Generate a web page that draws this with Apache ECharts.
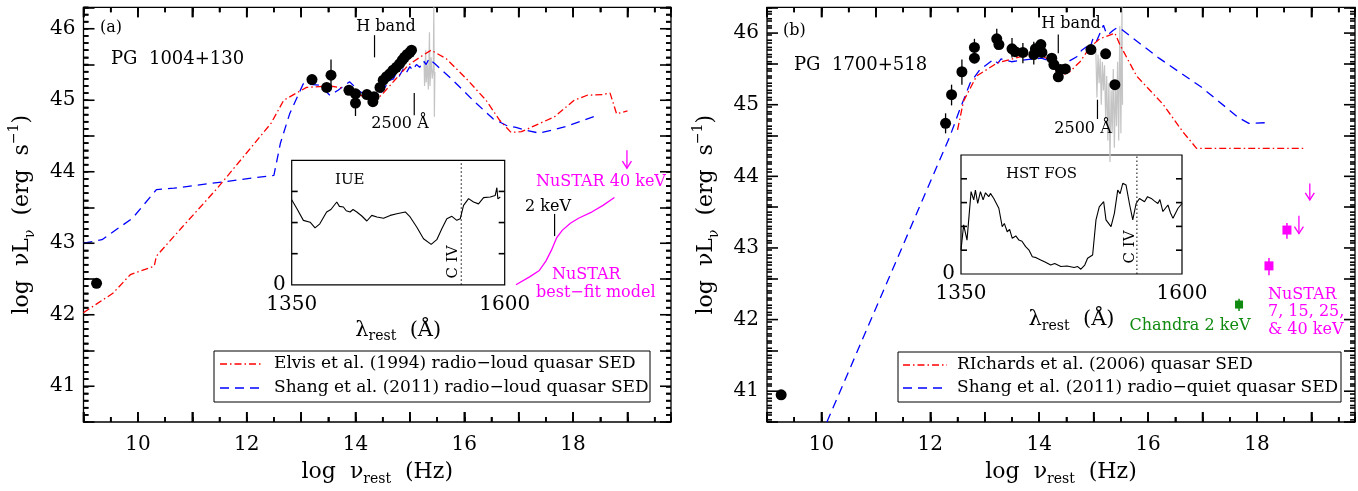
<!DOCTYPE html>
<html><head><meta charset="utf-8">
<script src="https://cdn.jsdelivr.net/npm/echarts@6/dist/echarts.min.js"></script>
<style>html,body{margin:0;padding:0;background:#fff}#c{width:1358px;height:491px}</style>
</head><body><div id="c"></div>
<script>
// ================= DATA =================
const xTickLabels = [10, 12, 14, 16, 18];
const yTickLabels = [41, 42, 43, 44, 45, 46];
const insetXLabels = [1350, 1600];
const insetYLabels = [0];

// ---- Panel (a): PG 1004+130 ----
const aElvis = [[9.0,42.03],[9.54,42.30],[9.86,42.56],[10.30,42.68],[10.34,42.82],[10.82,43.23],[11.46,43.77],[11.94,44.21],[12.45,44.68],[12.68,45.0],[13.10,45.18],[13.53,45.20],[13.83,45.16],[14.08,45.07],[14.38,45.0],[14.51,45.1],[14.72,45.28],[14.97,45.49],[15.18,45.60],[15.39,45.70],[15.67,45.58],[16.04,45.30],[16.40,45.0],[16.65,44.72],[16.86,44.55],[17.05,44.56],[17.66,44.77],[18.02,45.0],[18.26,45.07],[18.54,45.08],[18.68,45.10],[18.80,44.81],[19.0,44.85]];
const aShang = [[9.0,43.0],[9.34,43.05],[9.90,43.35],[10.34,43.75],[10.66,43.77],[12.50,43.95],[12.62,44.40],[12.79,44.81],[13.04,45.23],[13.34,45.21],[13.53,45.07],[13.68,45.14],[13.89,45.26],[14.08,45.12],[14.38,45.0],[14.63,45.28],[14.70,45.30],[14.75,45.38],[14.80,45.33],[14.88,45.44],[14.93,45.38],[15.0,45.47],[15.05,45.42],[15.12,45.50],[15.18,45.46],[15.25,45.55],[15.30,45.50],[15.35,45.58],[15.46,45.51],[15.79,45.28],[16.16,45.0],[16.53,44.74],[16.77,44.65],[16.95,44.62],[17.14,44.58],[17.38,44.54],[17.86,44.63],[18.38,44.77]];
const aPoints = [[9.24,42.44],[13.20,45.29],[13.47,45.18],[13.55,45.35],[13.88,45.14],[14.0,45.09],[14.0,44.96],[14.21,45.08],[14.32,44.98],[14.34,45.05],[14.45,45.18],[14.51,45.28],[14.57,45.33],[14.63,45.37],[14.69,45.42],[14.75,45.46],[14.81,45.51],[14.86,45.56],[14.90,45.60],[14.95,45.64],[15.0,45.67],[15.03,45.70]];
const aErr = [[13.55,45.18,45.57],[14.0,44.78,45.12]];
const aGray = [[15.26,45.55],[15.27,45.2],[15.29,45.7],[15.30,45.25],[15.32,45.5],[15.34,45.15],[15.36,45.95],[15.37,45.2],[15.39,45.6],[15.41,45.3],[15.43,45.45],[15.44,46.3],[15.45,44.77],[15.46,45.4]];
const aNustarModel = [[16.95,42.42],[17.2,42.53],[17.38,42.62],[17.5,42.75],[17.6,42.9],[17.7,43.08],[17.8,43.18],[17.95,43.28],[18.1,43.35],[18.35,43.44],[18.55,43.53],[18.76,43.64]];
const aUpper = [[18.99,44.30,44.05]];
const aMarks = [[14.35,45.91,45.60],[15.08,45.10,44.79],[17.66,43.41,43.10]];
const aIUE = [[1350,2.73],[1356,2.45],[1363.7,2.07],[1371.6,2.01],[1377.4,1.83],[1383,1.96],[1391,2.34],[1396,2.42],[1402.9,2.66],[1406,2.52],[1410.7,2.5],[1414,2.38],[1418.5,2.34],[1422,2.42],[1426.4,2.34],[1432.3,2.21],[1438.2,2.05],[1444,2.23],[1450,2.18],[1457.8,2.14],[1465.6,2.23],[1473.4,2.28],[1483.3,2.34],[1489,2.18],[1496.9,1.85],[1504.7,1.48],[1513.7,1.30],[1520.3,1.45],[1526.2,1.80],[1532.1,2.12],[1538,2.20],[1543.8,2.07],[1547.8,2.12],[1551.7,2.55],[1557.6,2.77],[1563.4,2.66],[1569.3,2.60],[1575.2,2.80],[1583,2.82],[1588.9,2.87],[1590.8,3.12],[1592,2.76],[1594.8,2.82]];
const aCIV = [[1549,0,4]];

// ---- Panel (b): PG 1700+518 ----
const bRichards = [[12.50,44.65],[12.61,45.05],[12.85,45.40],[13.22,45.58],[13.70,45.68],[14.01,45.70],[14.20,45.62],[14.32,45.46],[14.41,45.41],[14.56,45.46],[14.75,45.60],[14.93,45.80],[15.11,45.92],[15.39,46.0],[15.48,45.84],[15.79,45.40],[16.28,45.0],[16.64,44.62],[16.89,44.39],[18.90,44.39]];
const bShang = [[10.10,40.57],[12.36,44.56],[12.54,44.93],[12.73,45.30],[12.91,45.49],[13.16,45.63],[13.24,45.58],[13.30,45.64],[13.49,45.60],[13.77,45.63],[14.04,45.65],[14.20,45.61],[14.32,45.49],[14.44,45.44],[14.53,45.60],[14.69,45.67],[14.78,45.76],[14.87,45.81],[14.92,45.76],[14.99,45.93],[15.05,45.88],[15.18,46.11],[15.24,45.98],[15.30,46.0],[15.36,46.04],[15.42,46.07],[15.48,46.07],[16.2,45.65],[16.97,45.25],[17.66,44.82],[17.85,44.74],[18.22,44.75]];
const bPoints = [[9.26,40.95],[12.28,44.74],[12.39,45.14],[12.58,45.46],[12.81,45.65],[12.81,45.80],[13.22,45.92],[13.26,45.84],[13.50,45.78],[13.56,45.74],[13.70,45.73],[13.90,45.70],[13.93,45.78],[14.03,45.84],[14.05,45.73],[14.23,45.65],[14.27,45.56],[14.35,45.39],[14.39,45.49],[14.48,45.50],[14.95,45.77],[15.22,45.71],[15.39,45.28]];
const bErr = [[12.28,44.60,44.88],[12.39,44.99,45.28],[12.58,45.28,45.63],[12.81,45.58,45.92],[13.22,45.77,46.06],[13.50,45.66,45.93],[13.70,45.58,45.86],[13.90,45.56,45.88]];
const bGray = [[15.04,45.75],[15.06,45.1],[15.08,45.7],[15.10,45.3],[15.12,45.65],[15.14,45.0],[15.16,45.6],[15.18,45.2],[15.20,45.55],[15.22,44.8],[15.24,45.4],[15.26,44.5],[15.28,45.3],[15.30,44.2],[15.32,45.2],[15.34,44.6],[15.36,45.5],[15.38,44.4],[15.40,45.3],[15.42,44.7],[15.44,45.6],[15.46,44.5],[15.48,46.1],[15.50,44.6],[15.52,46.36],[15.53,45.0]];
const bChandra = [[17.67,42.21]];
const bChandraErr = [[17.67,42.12,42.29]];
const bNustar = [[18.22,42.75],[18.55,43.25]];
const bNustarErr = [[18.22,42.62,42.86],[18.55,43.13,43.35]];
const bUpper = [[18.77,43.45,43.20],[18.97,43.90,43.67]];
const bMarks = [[14.35,45.98,45.72],[15.07,45.07,44.80]];
const bFOS = [[1350,0.81],[1353,1.65],[1356.8,1.14],[1361.4,2.77],[1364.4,2.49],[1366.3,2.82],[1368.9,2.37],[1372,2.77],[1375,2.49],[1377.7,2.73],[1381.4,2.60],[1383.3,2.71],[1387.1,2.54],[1392.8,2.21],[1396.6,1.59],[1399,1.70],[1402.3,1.42],[1405,1.50],[1408,1.20],[1412,1.28],[1415.5,1.14],[1419,1.10],[1423.1,0.92],[1427,0.80],[1430.7,0.58],[1435,0.55],[1440.2,0.47],[1445,0.40],[1451.5,0.30],[1456,0.35],[1462.9,0.25],[1470,0.27],[1478,0.22],[1482,0.25],[1485.6,0.16],[1490,0.30],[1493.2,0.53],[1498.9,0.64],[1502.7,1.82],[1506.4,2.26],[1511.4,2.43],[1514,1.82],[1519.7,1.59],[1523.5,2.04],[1527.3,2.82],[1530,2.70],[1533,3.05],[1536.7,2.99],[1540.5,2.37],[1544.3,1.82],[1548.1,2.37],[1551.9,2.54],[1557.6,2.43],[1561,2.60],[1565.2,2.54],[1569,2.45],[1572.7,2.37],[1575,2.50],[1578.4,2.10],[1584.1,2.32],[1587,2.05],[1589.8,1.87],[1595.5,2.21],[1600,2.37]];
const bCIV = [[1549,0,4]];

// ================= STYLE / LAYOUT =================
const FONT = 'DejaVu Serif';
const RED = '#ff0000', BLUE = '#0000ff', MAG = '#ff00ff', GRN = '#108a10', GRAY = '#c4c4c4';
const DASHDOT = [7,3,1.5,3], DASH = [9,6];
const TICKW = 1.6;
const G = {
  a: {left: 83.5, top: 7.3, width: 587.5, height: 415.4},
  b: {left: 767, top: 7.3, width: 588, height: 415.4},
  ia: {left: 291.7, top: 160.3, width: 213, height: 124.5},
  ib: {left: 961, top: 155, width: 221, height: 119}
};
const RANGE = {
  a: {x: [9, 19.8], y: [40.5, 46.3]},
  b: {x: [9, 19.8], y: [40.57, 46.36]},
  ia: {x: [1350, 1600], y: [0, 4]},
  ib: {x: [1350, 1600], y: [0, 4]}
};
// tick positions (axis furniture)
const xMajor = [], xMinor = [], yMajor = [], yMinor = [];
for (let v = 9; v <= 19; v++) { xMajor.push(v); xMinor.push(v + 0.5); }
for (let i = 406; i <= 463; i++) { (i % 10 === 0 ? yMajor : yMinor).push(i / 10); }
const insetATicks = [1, 2, 3];
const insetBTicks = [0.8, 1.6, 2.4, 3.2];

const numFmt = function (v) { return String(v); };
const tickLine = {color: '#000', width: TICKW};
function xAx(grid, r, labels, name) {
  return {type: 'value', gridIndex: grid, position: 'bottom', min: r.x[0], max: r.x[1],
    splitLine: {show: false}, axisLine: {show: false, onZero: false}, axisTick: {show: false},
    axisLabel: {show: true, customValues: labels, formatter: numFmt, color: '#000', fontFamily: FONT, fontSize: 20, margin: 13},
    name: name, nameLocation: 'middle', nameGap: 36,
    nameTextStyle: {color: '#000', fontFamily: FONT, rich: {
      t: {fontFamily: FONT, fontSize: 22, color: '#000', lineHeight: 28},
      s: {fontFamily: FONT, fontSize: 14, color: '#000', verticalAlign: 'bottom', lineHeight: 14}}}};
}
function yAx(grid, r, labels, name) {
  return {type: 'value', gridIndex: grid, position: 'left', min: r.y[0], max: r.y[1],
    splitLine: {show: false}, axisLine: {show: false, onZero: false}, axisTick: {show: false},
    axisLabel: {show: true, customValues: labels, formatter: numFmt, color: '#000', fontFamily: FONT, fontSize: 20, margin: 8},
    name: name, nameLocation: 'middle', nameRotate: 90, nameGap: 46,
    nameTextStyle: {color: '#000', fontFamily: FONT, rich: {
      t: {fontFamily: FONT, fontSize: 22, color: '#000', lineHeight: 30},
      s: {fontFamily: FONT, fontSize: 14, color: '#000', verticalAlign: 'bottom', lineHeight: 14},
      p: {fontFamily: FONT, fontSize: 14, color: '#000', verticalAlign: 'top', lineHeight: 14}}}};
}
// extra tick-only axes (no labels), appended after the main axes
function xTickAx(grid, r, pos, interval, len) {
  return {type: 'value', gridIndex: grid, position: pos, min: r.x[0], max: r.x[1], interval: interval,
    splitLine: {show: false}, axisLine: {show: false, onZero: false}, axisLabel: {show: false},
    axisTick: {show: true, inside: true, length: len, lineStyle: tickLine}};
}
function yTickAx(grid, r, pos, interval, len) {
  return {type: 'value', gridIndex: grid, position: pos, min: r.y[0], max: r.y[1], interval: interval,
    splitLine: {show: false}, axisLine: {show: false, onZero: false}, axisLabel: {show: false},
    axisTick: {show: true, inside: true, length: len, lineStyle: tickLine}};
}
const XNAME = '{t|log  ν}{s|rest}{t|  (Hz)}';
const YNAME = '{t|log  νL}{s|ν}{t|  (erg  s}{p|−1}{t|)}';
const insetRich = {t: {fontFamily: FONT, fontSize: 21, color: '#000', lineHeight: 26}, s: {fontFamily: FONT, fontSize: 14, color: '#000', verticalAlign: 'bottom', lineHeight: 14}};
function insetX(grid, r) {
  return {type: 'value', gridIndex: grid, position: 'bottom', min: r.x[0], max: r.x[1],
    splitLine: {show: false}, axisLine: {show: false, onZero: false}, axisTick: {show: false},
    axisLabel: {show: true, customValues: insetXLabels, formatter: numFmt, color: '#000', fontFamily: FONT, fontSize: 20, margin: 10},
    name: '{t|λ}{s|rest}{t|  (Å)}', nameLocation: 'middle', nameGap: 33, nameTextStyle: {rich: insetRich}};
}
function insetY(grid, r) {
  return {type: 'value', gridIndex: grid, position: 'left', min: r.y[0], max: r.y[1],
    splitLine: {show: false}, axisLine: {show: false, onZero: false}, axisTick: {show: false},
    axisLabel: {show: true, customValues: insetYLabels, formatter: numFmt, color: '#000', fontFamily: FONT, fontSize: 20, margin: 6}};
}
const xAxes = [xAx(0, RANGE.a, xTickLabels, XNAME), xAx(1, RANGE.b, xTickLabels, XNAME), insetX(2, RANGE.ia), insetX(3, RANGE.ib)];
const yAxes = [yAx(0, RANGE.a, yTickLabels, YNAME), yAx(1, RANGE.b, yTickLabels, YNAME), insetY(2, RANGE.ia), insetY(3, RANGE.ib)];
[0, 1].forEach(function (g) {
  const r = g === 0 ? RANGE.a : RANGE.b;
  ['bottom', 'top'].forEach(function (p) { xAxes.push(xTickAx(g, r, p, 1, 10), xTickAx(g, r, p, 0.5, 5)); });
  ['left', 'right'].forEach(function (p) { yAxes.push(yTickAx(g, r, p, 1, 11), yTickAx(g, r, p, 0.1, 5)); });
});

// ================= SERIES HELPERS =================
function line(xi, yi, data, color, dash, width, z) {
  return {type: 'line', xAxisIndex: xi, yAxisIndex: yi, data: data, symbol: 'none', showSymbol: false,
    lineStyle: {color: color, type: dash || 'solid', width: width || 1.3}, silent: true, z: z || 3, clip: true};
}
function dots(xi, yi, data, color, symbol, size) {
  return {type: 'scatter', xAxisIndex: xi, yAxisIndex: yi, data: data, symbol: symbol, symbolSize: size,
    itemStyle: {color: color, opacity: 1}, silent: true, z: 6};
}
function vseg(xi, yi, data, color, width, dash) {
  return {type: 'custom', xAxisIndex: xi, yAxisIndex: yi, data: data, silent: true, z: 5,
    encode: {x: 0, y: [1, 2]},
    renderItem: function (params, api) {
      const p1 = api.coord([api.value(0), api.value(1)]);
      const p2 = api.coord([api.value(0), api.value(2)]);
      return {type: 'line', shape: {x1: p1[0], y1: p1[1], x2: p2[0], y2: p2[1]},
        style: {stroke: color, lineWidth: width, lineDash: dash || null}};
    }};
}
function arrows(xi, yi, data, color) {
  return {type: 'custom', xAxisIndex: xi, yAxisIndex: yi, data: data, silent: true, z: 5,
    encode: {x: 0, y: [1, 2]},
    renderItem: function (params, api) {
      const p1 = api.coord([api.value(0), api.value(1)]);
      const p2 = api.coord([api.value(0), api.value(2)]);
      const st = {stroke: color, lineWidth: 1.3, fill: null};
      return {type: 'group', children: [
        {type: 'line', shape: {x1: p1[0], y1: p1[1], x2: p2[0], y2: p2[1]}, style: st},
        {type: 'polyline', shape: {points: [[p2[0]-4.5, p2[1]-7], [p2[0], p2[1]], [p2[0]+4.5, p2[1]-7]]}, style: st}
      ]};
    }};
}
// inward frame ticks along x at bottom (and top): items [xValue, yMin, yMax]
function tickX(idx, r, vals, len, both) {
  return {type: 'custom', xAxisIndex: idx, yAxisIndex: idx, silent: true, z: 8,
    data: vals.map(function (v) { return [v, r.y[0], r.y[1]]; }),
    encode: {x: 0, y: [1, 2]},
    renderItem: function (params, api) {
      const pb = api.coord([api.value(0), api.value(1)]), pt = api.coord([api.value(0), api.value(2)]);
      const ch = [{type: 'line', shape: {x1: pb[0], y1: pb[1], x2: pb[0], y2: pb[1] - len}, style: {stroke: '#000', lineWidth: TICKW}}];
      if (both) ch.push({type: 'line', shape: {x1: pt[0], y1: pt[1], x2: pt[0], y2: pt[1] + len}, style: {stroke: '#000', lineWidth: TICKW}});
      return {type: 'group', children: ch};
    }};
}
// inward frame ticks along y at left and right: items [xMin, yValue, xMax]
function tickY(idx, r, vals, len) {
  return {type: 'custom', xAxisIndex: idx, yAxisIndex: idx, silent: true, z: 8,
    data: vals.map(function (v) { return [r.x[0], v, r.x[1]]; }),
    encode: {x: [0, 2], y: 1},
    renderItem: function (params, api) {
      const pl = api.coord([api.value(0), api.value(1)]), pr = api.coord([api.value(2), api.value(1)]);
      return {type: 'group', children: [
        {type: 'line', shape: {x1: pl[0], y1: pl[1], x2: pl[0] + len, y2: pl[1]}, style: {stroke: '#000', lineWidth: TICKW}},
        {type: 'line', shape: {x1: pr[0], y1: pr[1], x2: pr[0] - len, y2: pr[1]}, style: {stroke: '#000', lineWidth: TICKW}}
      ]};
    }};
}

const series = [
  tickX(0, RANGE.a, xMajor, 10, true), tickX(0, RANGE.a, xMinor, 5, true),
  tickY(0, RANGE.a, yMajor, 11), tickY(0, RANGE.a, yMinor, 5),
  tickX(1, RANGE.b, xMajor, 10, true), tickX(1, RANGE.b, xMinor, 5, true),
  tickY(1, RANGE.b, yMajor, 11), tickY(1, RANGE.b, yMinor, 5),
  tickY(2, RANGE.ia, insetATicks, 6), tickY(3, RANGE.ib, insetBTicks, 6),
  // panel a
  line(0,0,aGray,GRAY,'solid',1.2,2),
  line(0,0,aShang,BLUE,DASH,1.3),
  line(0,0,aElvis,RED,DASHDOT,1.3),
  vseg(0,0,aErr,'#000',1.3),
  dots(0,0,aPoints,'#000','circle',11),
  vseg(0,0,aMarks,'#000',1.2),
  line(0,0,aNustarModel,MAG,'solid',1.3),
  arrows(0,0,aUpper,MAG),
  // panel b
  line(1,1,bGray,GRAY,'solid',1.2,2),
  line(1,1,bShang,BLUE,DASH,1.3),
  line(1,1,bRichards,RED,DASHDOT,1.3),
  vseg(1,1,bErr,'#000',1.3),
  dots(1,1,bPoints,'#000','circle',11),
  vseg(1,1,bMarks,'#000',1.2),
  vseg(1,1,bChandraErr,GRN,1.5),
  dots(1,1,bChandra,GRN,'rect',8),
  vseg(1,1,bNustarErr,MAG,1.5),
  dots(1,1,bNustar,MAG,'rect',9),
  arrows(1,1,bUpper,MAG),
  // insets
  line(2,2,aIUE,'#000','solid',1.1),
  vseg(2,2,aCIV,'#000',1,[1.5,2.5]),
  line(3,3,bFOS,'#000','solid',1.1),
  vseg(3,3,bCIV,'#000',1,[1.5,2.5])
];

// ================= TEXT ANNOTATIONS / LEGENDS =================
function txt(x, y, text, size, color, align, rot) {
  return {type: 'text', x: x, y: y, rotation: rot || 0, silent: true, z: 10,
    style: {text: text, fill: color || '#000', font: size + 'px "' + FONT + '"',
      textAlign: align || 'left', textVerticalAlign: 'middle', align: align || 'left', verticalAlign: 'middle'}};
}
function seg(x1, y1, x2, y2, color, dash) {
  return {type: 'line', silent: true, z: 10, shape: {x1: x1, y1: y1, x2: x2, y2: y2}, style: {stroke: color, lineWidth: 1.4, lineDash: dash}};
}
function box(x, y, w, h) {
  return {type: 'rect', silent: true, z: 9, shape: {x: x, y: y, width: w, height: h}, style: {fill: '#fff', stroke: '#000', lineWidth: 1}};
}
const graphics = [
  // panel a
  txt(100, 28, '(a)', 16), txt(111, 59, 'PG  1004+130', 18),
  txt(386, 27, 'H band', 16, '#000', 'center'), txt(400, 124, '2500 Å', 16, '#000', 'center'),
  txt(335, 180, 'IUE', 15), txt(453, 262, 'C IV', 15, '#000', 'center', Math.PI / 2),
  txt(525, 207, '2 keV', 16), txt(536, 182, 'NuSTAR 40 keV', 16, MAG),
  txt(552, 275, 'NuSTAR', 16, MAG), txt(536, 293, 'best−fit model', 16, MAG),
  box(214, 351, 436, 51),
  seg(220, 364, 263, 364, RED, DASHDOT), txt(274, 364, 'Elvis et al. (1994) radio−loud quasar SED', 17),
  seg(220, 388, 263, 388, BLUE, DASH), txt(274, 388, 'Shang et al. (2011) radio−loud quasar SED', 17),
  // panel b
  txt(783, 31, '(b)', 16), txt(794, 65, 'PG  1700+518', 18),
  txt(1071, 24, 'H band', 16, '#000', 'center'), txt(1083, 129, '2500 Å', 16, '#000', 'center'),
  txt(1006, 174, 'HST FOS', 15), txt(1130, 247, 'C IV', 15, '#000', 'center', Math.PI / 2),
  txt(1190, 326, 'Chandra 2 keV', 16, GRN, 'center'),
  txt(1268, 295, 'NuSTAR', 16, MAG), txt(1268, 312, '7, 15, 25,', 16, MAG), txt(1268, 330, '& 40 keV', 16, MAG),
  box(898, 352, 443, 50),
  seg(903, 365, 947, 365, RED, DASHDOT), txt(957, 365, 'RIchards et al. (2006) quasar SED', 17),
  seg(903, 388, 947, 388, BLUE, DASH), txt(957, 388, 'Shang et al. (2011) radio−quiet quasar SED', 17)
];

const gridStyle = {show: true, borderColor: '#000', borderWidth: 1.3, backgroundColor: 'transparent', containLabel: false};
const option = {
  animation: false,
  backgroundColor: '#fff',
  textStyle: {fontFamily: FONT},
  grid: [Object.assign({}, gridStyle, G.a), Object.assign({}, gridStyle, G.b),
         Object.assign({}, gridStyle, G.ia, {borderWidth: 1.2}), Object.assign({}, gridStyle, G.ib, {borderWidth: 1.2})],
  xAxis: xAxes,
  yAxis: yAxes,
  series: series,
  graphic: graphics
};
const chart = echarts.init(document.getElementById('c'), null, {renderer: 'canvas'});
chart.setOption(option);
</script></body></html>
